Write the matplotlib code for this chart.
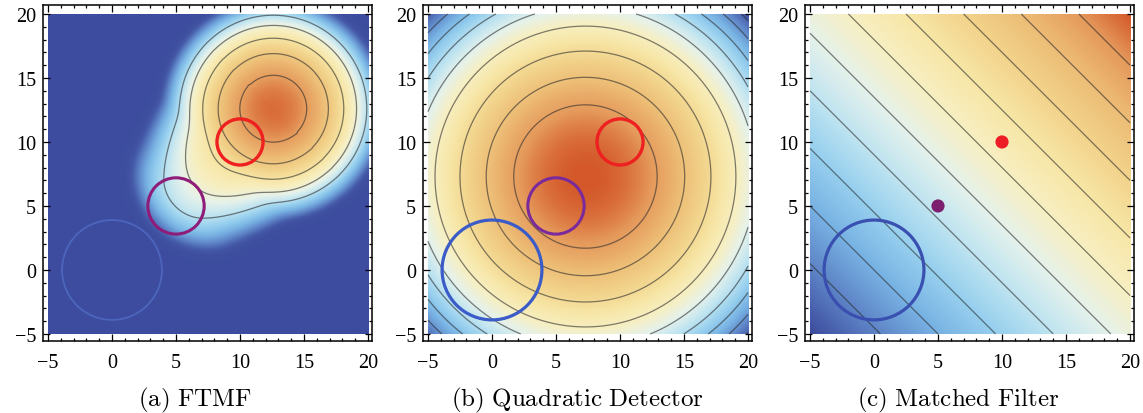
import numpy as np
import matplotlib
matplotlib.use('Agg')
import matplotlib.pyplot as plt

from matplotlib.colors import LinearSegmentedColormap
from matplotlib.patches import Circle
from matplotlib.ticker import MultipleLocator


# colour scale (low -> high)
cmap_positions = [0.0, 0.11, 0.20, 0.29, 0.38, 0.47, 0.56, 0.65, 0.74, 0.83, 0.92, 1.0]
cmap_colors = ['#3d4c9e', '#5f86c8', '#78b2e3', '#96cfee', '#bfe4f1', '#e6f2ea',
               '#f7efc2', '#f7e6a6', '#f2d38b', '#edbd76', '#e59a5c', '#d4582a']

captions = ['(a) FTMF', '(b) Quadratic Detector', '(c) Matched Filter']
tick_values = [-5, 0, 5, 10, 15, 20]

# the three targets (red, purple, blue)
target_x = [10, 5, 0]
target_y = [10, 5, 0]
target_radius = [1.8, 2.2, 3.9]

# (a) FTMF: peak position, tail toward lower left, contour levels (squared units)
ftmf_peak = [12.6, 12.6]
ftmf_tail = [2.9, 4.58, 1.05]
ftmf_tail_end = [10.0, 1.4]
ftmf_levels = [6.8, 18.5, 30.3, 42.3, 53.3]
ftmf_colour = [0.97, 0.0088, 0.00005]

# (b) quadratic detector: centre, colour radius and contour radii
quad_centre = [7.3, 7.3]
quad_colour_radius = 18.0
quad_contour_radii = [5.6, 7.75, 9.8, 11.75, 13.3, 14.5, 15.6, 16.65, 17.6]

# (c) matched filter: x + y, its range and contour levels
mf_range = [-10, 40]
mf_levels = [-4.5, 0, 4.5, 9, 13.5, 18, 22.5, 27, 31.5, 36]


def make_grid(n=401):
    x = np.linspace(-5, 20, n)
    return np.meshgrid(x, x)


def ftmf_field(xx, yy):
    """Squared distance from the peak, stretched along a tail to the lower left."""
    cx, cy = ftmf_peak
    r2 = (xx - cx) ** 2 + (yy - cy) ** 2
    t = ((cx - xx) + (cy - yy)) / np.sqrt(2)
    w = (yy - xx) / np.sqrt(2)
    a, b, c = ftmf_tail
    t0, d = ftmf_tail_end
    tail = a + b * t + c * w ** 2 + d * np.maximum(t - t0, 0) ** 2
    tail = np.where(t > 0, tail, 1e6)
    k = 2.0
    m = np.minimum(r2, tail)
    g = m - k * np.log(np.exp(-(r2 - m) / k) + np.exp(-(tail - m) / k))
    p0, p1, p2 = ftmf_colour
    pos = p0 - p1 * g - p2 * g ** 2
    eps = 0.06
    pos = 0.5 * (pos + np.sqrt(pos ** 2 + eps ** 2))
    return g, np.clip(pos, 0, 1)


def quad_field(xx, yy):
    cx, cy = quad_centre
    r = np.sqrt((xx - cx) ** 2 + (yy - cy) ** 2)
    pos = 1 - (r / quad_colour_radius) ** 2
    return r, np.clip(pos, 0, 1)


def mf_field(xx, yy):
    s = xx + yy
    pos = (s - mf_range[0]) / (mf_range[1] - mf_range[0])
    return s, np.clip(pos, 0, 1)


def style_axes(ax):
    ax.set_xlim(-5.39, 20.31)
    ax.set_ylim(-5.55, 20.7)
    ax.set_xticks(tick_values)
    ax.set_yticks(tick_values)
    ax.xaxis.set_minor_locator(MultipleLocator(1))
    ax.yaxis.set_minor_locator(MultipleLocator(1))
    ax.tick_params(which='both', direction='in', top=True, right=True,
                   width=0.9, colors='black')
    ax.tick_params(which='major', length=5)
    ax.tick_params(which='minor', length=2.5)
    ax.tick_params(axis='x', pad=9)
    ax.tick_params(axis='y', pad=5)
    for label in ax.get_xticklabels() + ax.get_yticklabels():
        label.set_fontfamily('Liberation Serif')
        label.set_fontsize(14.5)
    for spine in ax.spines.values():
        spine.set_linewidth(1.1)


def draw_circles(ax, colours, widths, skip=()):
    for i, (x, y, r) in enumerate(zip(target_x, target_y, target_radius)):
        if i in skip:
            continue
        ax.add_patch(Circle((x, y), r, fill=False, edgecolor=colours[i],
                            linewidth=widths[i], zorder=4))


plt.rcParams['mathtext.fontset'] = 'cm'
cmap = LinearSegmentedColormap.from_list('temp', list(zip(cmap_positions, cmap_colors)))

fig = plt.figure(figsize=(11.43, 4.14), dpi=100)
lefts = [43 / 1143, 423 / 1143, 805 / 1143]
axes = [fig.add_axes([l, 1 - 342 / 414, 329 / 1143, 336 / 414]) for l in lefts]

xx, yy = make_grid()
extent = (-5, 20, -5, 20)
contour_style = dict(colors='#2b2b2b', linewidths=0.9, alpha=0.6,
                     linestyles='solid', zorder=3)

# (a) FTMF
ax = axes[0]
g, pos = ftmf_field(xx, yy)
ax.imshow(pos, origin='lower', extent=extent, cmap=cmap, vmin=0, vmax=1,
          interpolation='bilinear', aspect='auto', zorder=1)
ax.contour(xx, yy, g, levels=ftmf_levels, **contour_style)
draw_circles(ax, ['#ee2020', '#8e1c78', '#4d66bd'], [2.4, 2.2, 1.3])

# (b) quadratic detector
ax = axes[1]
r, pos = quad_field(xx, yy)
ax.imshow(pos, origin='lower', extent=extent, cmap=cmap, vmin=0, vmax=1,
          interpolation='bilinear', aspect='auto', zorder=1)
ax.contour(xx, yy, r, levels=quad_contour_radii, **contour_style)
draw_circles(ax, ['#ee2020', '#7a2a9a', '#3a5bc8'], [2.4, 2.2, 2.3])

# (c) matched filter
ax = axes[2]
s, pos = mf_field(xx, yy)
ax.imshow(pos, origin='lower', extent=extent, cmap=cmap, vmin=0, vmax=1,
          interpolation='bilinear', aspect='auto', zorder=1)
ax.contour(xx, yy, s, levels=mf_levels, **contour_style)
ax.scatter(target_x[:2], target_y[:2], s=90, c=['#ee1c24', '#7b1f6e'],
           edgecolors='none', zorder=5)
draw_circles(ax, [None, None, '#3a50b0'], [0, 0, 2.3], skip=(0, 1))

for ax in axes:
    style_axes(ax)

caption_x = [195 / 1143, 577 / 1143, 958 / 1143]
for x, text in zip(caption_x, captions):
    fig.text(x, 1 - 406 / 414, r'$\mathrm{' + text.replace(' ', r'\ ') + '}$',
             ha='center', va='baseline', fontsize=18)

fig.savefig('out.png', dpi=100)
